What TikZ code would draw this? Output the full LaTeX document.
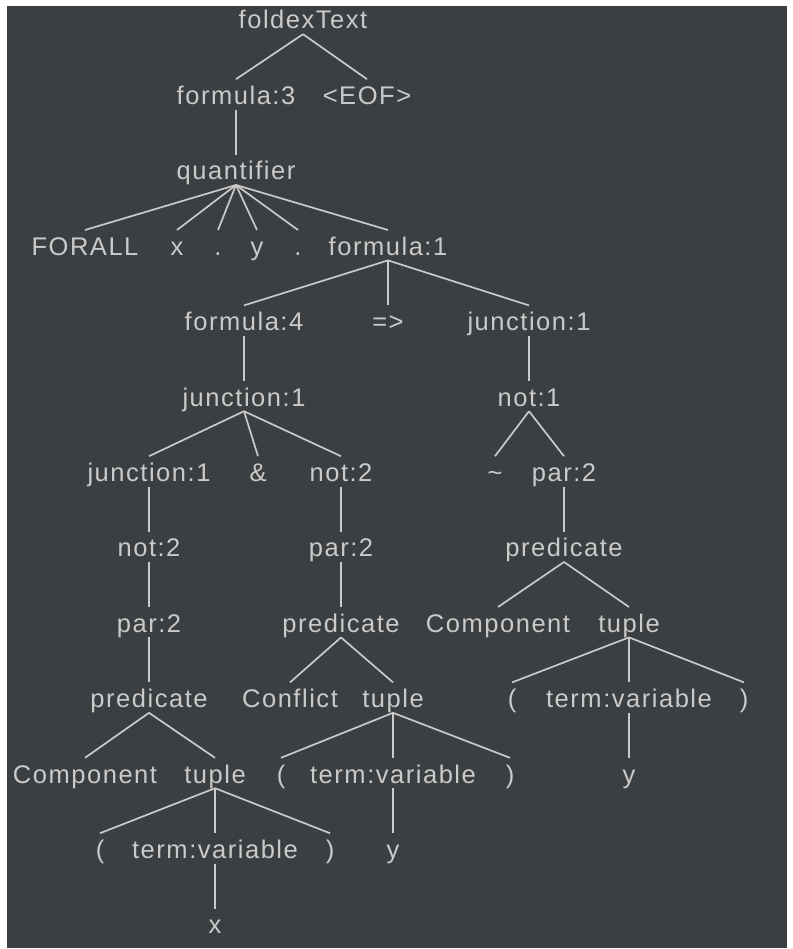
\documentclass[tikz,border=0pt]{standalone}
\usepackage{fontspec}
\setmainfont{Liberation Sans}[LetterSpace=6,Ligatures=NoCommon]
\usetikzlibrary{positioning}
\definecolor{bgdark}{HTML}{3C3F41}
\definecolor{inkgray}{HTML}{CACACA}
\tikzset{
  tn/.style={text=inkgray, font=\fontsize{25.5}{30}\selectfont, inner xsep=0pt, inner ysep=0pt, text height=25pt, text depth=5pt},
  branch/.style={draw=inkgray, line width=1.7pt}
}

\begin{document}
\begin{tikzpicture}[x=1pt, y=1pt, node distance=45pt]
  \fill[white] (0,0) rectangle (792,-949);
  \fill[bgdark] (7,-6) rectangle (787,-948);
  \useasboundingbox (0,0) rectangle (792,-949);

  \node[tn, anchor=base] (root) at (303,-29) {foldexText};
  \node[tn, below=of root, xshift=-67pt] (f3) {formula:3};
  \node[tn, below=of root, xshift=64pt] (eof) {<EOF>};
  \node[tn, below=of f3] (quant) {quantifier};
  \node[tn, below=of quant, xshift=-151pt] (forall) {FORALL};
  \node[tn, below=of quant, xshift=-59pt] (xa) {x};
  \node[tn, below=of quant, xshift=-18pt] (dota) {.};
  \node[tn, below=of quant, xshift=21pt] (ya) {y};
  \node[tn, below=of quant, xshift=62pt] (dotb) {.};
  \node[tn, below=of quant, xshift=152pt] (f1) {formula:1};
  \node[tn, below=of f1, xshift=-144pt] (f4) {formula:4};
  \node[tn, below=of f1] (impl) {=>};
  \node[tn, below=of f1, xshift=141pt] (junr) {junction:1};
  \node[tn, below=of f4] (junm) {junction:1};
  \node[tn, below=of junr] (notr) {not:1};
  \node[tn, below=of junm, xshift=-95pt] (junl) {junction:1};
  \node[tn, below=of junm, xshift=14pt] (amp) {\&};
  \node[tn, below=of junm, xshift=97pt] (notm) {not:2};
  \node[tn, below=of notr, xshift=-34pt] (tilde) {\textasciitilde};
  \node[tn, below=of notr, xshift=35pt] (parr) {par:2};
  \node[tn, below=of junl] (notl) {not:2};
  \node[tn, below=of notm] (parm) {par:2};
  \node[tn, below=of parr] (predr) {predicate};
  \node[tn, below=of notl] (parl) {par:2};
  \node[tn, below=of parm] (predm) {predicate};
  \node[tn, below=of predr, xshift=-66pt] (compr) {Component};
  \node[tn, below=of predr, xshift=65pt] (tupr) {tuple};
  \node[tn, below=of parl] (predl) {predicate};
  \node[tn, below=of predm, xshift=-51pt] (conf) {Conflict};
  \node[tn, below=of predm, xshift=52pt] (tupm) {tuple};
  \node[tn, below=of tupr, xshift=-117pt] (lpr) {(};
  \node[tn, below=of tupr] (tvr) {term:variable};
  \node[tn, below=of tupr, xshift=115pt] (rpr) {)};
  \node[tn, below=of predl, xshift=-64pt] (compl) {Component};
  \node[tn, below=of predl, xshift=66pt] (tupl) {tuple};
  \node[tn, below=of tupm, xshift=-112pt] (lpm) {(};
  \node[tn, below=of tupm] (tvm) {term:variable};
  \node[tn, below=of tupm, xshift=117pt] (rpm) {)};
  \node[tn, below=of tvr] (yr) {y};
  \node[tn, below=of tupl, xshift=-115pt] (lpl) {(};
  \node[tn, below=of tupl] (tvl) {term:variable};
  \node[tn, below=of tupl, xshift=115pt] (rpl) {)};
  \node[tn, below=of tvm] (ym) {y};
  \node[tn, below=of tvl] (xl) {x};

  \draw[branch] (root.south) -- (f3.north);
  \draw[branch] (root.south) -- (eof.north);
  \draw[branch] (f3.south) -- (quant.north);
  \draw[branch] (quant.south) -- (forall.north);
  \draw[branch] (quant.south) -- (xa.north);
  \draw[branch] (quant.south) -- (dota.north);
  \draw[branch] (quant.south) -- (ya.north);
  \draw[branch] (quant.south) -- (dotb.north);
  \draw[branch] (quant.south) -- (f1.north);
  \draw[branch] (f1.south) -- (f4.north);
  \draw[branch] (f1.south) -- (impl.north);
  \draw[branch] (f1.south) -- (junr.north);
  \draw[branch] (f4.south) -- (junm.north);
  \draw[branch] (junr.south) -- (notr.north);
  \draw[branch] (junm.south) -- (junl.north);
  \draw[branch] (junm.south) -- (amp.north);
  \draw[branch] (junm.south) -- (notm.north);
  \draw[branch] (notr.south) -- (tilde.north);
  \draw[branch] (notr.south) -- (parr.north);
  \draw[branch] (junl.south) -- (notl.north);
  \draw[branch] (notm.south) -- (parm.north);
  \draw[branch] (parr.south) -- (predr.north);
  \draw[branch] (notl.south) -- (parl.north);
  \draw[branch] (parm.south) -- (predm.north);
  \draw[branch] (predr.south) -- (compr.north);
  \draw[branch] (predr.south) -- (tupr.north);
  \draw[branch] (parl.south) -- (predl.north);
  \draw[branch] (predm.south) -- (conf.north);
  \draw[branch] (predm.south) -- (tupm.north);
  \draw[branch] (tupr.south) -- (lpr.north);
  \draw[branch] (tupr.south) -- (tvr.north);
  \draw[branch] (tupr.south) -- (rpr.north);
  \draw[branch] (predl.south) -- (compl.north);
  \draw[branch] (predl.south) -- (tupl.north);
  \draw[branch] (tupm.south) -- (lpm.north);
  \draw[branch] (tupm.south) -- (tvm.north);
  \draw[branch] (tupm.south) -- (rpm.north);
  \draw[branch] (tvr.south) -- (yr.north);
  \draw[branch] (tupl.south) -- (lpl.north);
  \draw[branch] (tupl.south) -- (tvl.north);
  \draw[branch] (tupl.south) -- (rpl.north);
  \draw[branch] (tvm.south) -- (ym.north);
  \draw[branch] (tvl.south) -- (xl.north);
\end{tikzpicture}
\end{document}
